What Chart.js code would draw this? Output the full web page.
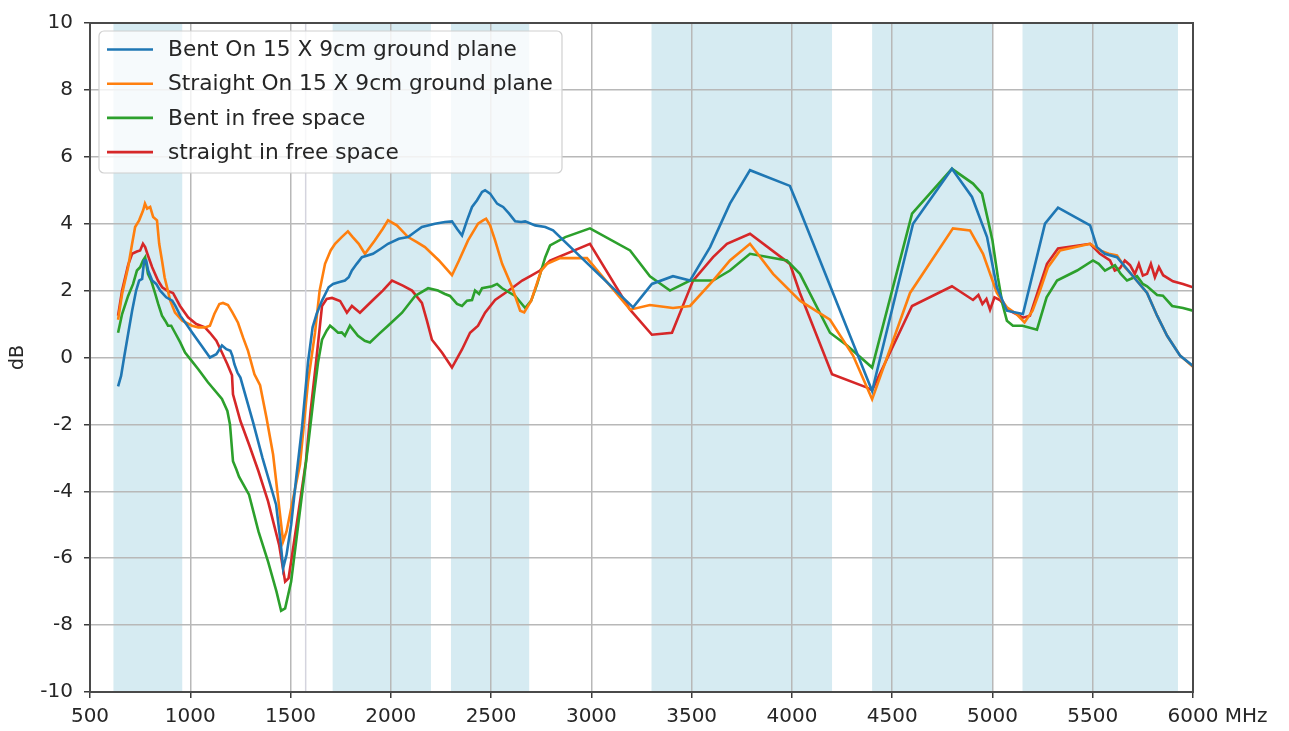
<!DOCTYPE html>
<html><head><meta charset="utf-8">
<script src="https://cdn.jsdelivr.net/npm/chart.js@4.4.1/dist/chart.umd.min.js"></script>
<style>html,body{margin:0;padding:0;background:#fff}#wrap{width:1289px;height:731px}</style>
</head><body><div id="wrap"><canvas id="c" width="1289" height="731"></canvas></div>
<script>
// ---- data ----
const seriesLabels = ["Bent On 15 X 9cm ground plane","Straight On 15 X 9cm ground plane","Bent in free space","straight in free space"];
const seriesColors = ["#1f77b4","#ff7f0e","#2ca02c","#d62728"];
const bands = [[617,960],[1710,2200],[2300,2690],[3300,4200],[4400,5000],[5150,5925]];
const gpsLine = 1575.42;
const xTickValues = [500,1000,1500,2000,2500,3000,3500,4000,4500,5000,5500,6000];
const yTickValues = [-10,-8,-6,-4,-2,0,2,4,6,8,10];

const bentGpFreq = [640,655,670,690,710,730,745,760,770,780,790,810,830,850,880,910,925,950,980,1010,1050,1098,1130,1158,1180,1200,1210,1220,1235,1250,1313,1360,1428,1450,1463,1480,1503,1530,1557,1587,1610,1630,1657,1690,1712,1740,1771,1790,1806,1830,1856,1911,1950,1986,2040,2086,2120,2155,2220,2270,2305,2330,2355,2380,2405,2430,2455,2470,2495,2530,2545,2560,2590,2620,2650,2670,2720,2770,2809,3208,3302,3407,3492,3592,3691,3791,3990,4040,4400,4604,4798,4898,4973,5022,5072,5152,5262,5327,5487,5521,5560,5621,5701,5771,5821,5871,5935,6000];
const bentGpDb = [-0.86,-0.55,0.0,0.7,1.4,2.0,2.3,2.35,2.9,2.9,2.6,2.3,2.2,2.0,1.8,1.7,1.55,1.25,1.0,0.74,0.4,0.0,0.1,0.36,0.25,0.2,0.05,-0.2,-0.45,-0.6,-1.93,-3.0,-4.4,-5.5,-6.3,-5.9,-5.0,-3.5,-2.1,-0.15,0.9,1.3,1.7,2.1,2.2,2.25,2.3,2.4,2.6,2.8,3.0,3.1,3.25,3.4,3.55,3.6,3.75,3.9,4.0,4.05,4.07,3.85,3.65,4.1,4.5,4.7,4.95,5.0,4.9,4.6,4.55,4.5,4.3,4.07,4.05,4.07,3.95,3.9,3.8,1.5,2.2,2.43,2.3,3.3,4.6,5.6,5.13,4.4,-1.0,4.0,5.64,4.8,3.6,2.1,1.4,1.3,4.0,4.48,3.95,3.3,3.1,3.0,2.43,1.93,1.25,0.65,0.06,-0.25];

const straightGpFreq = [640,660,690,710,725,745,765,774,785,800,815,834,845,859,872,884,900,924,960,1009,1040,1073,1098,1120,1145,1163,1188,1210,1238,1263,1288,1320,1348,1380,1413,1440,1463,1480,1510,1547,1587,1622,1645,1672,1700,1722,1755,1786,1810,1840,1871,1920,1960,1986,2030,2086,2130,2170,2240,2305,2340,2385,2435,2460,2475,2495,2520,2555,2605,2645,2665,2700,2750,2779,2844,2978,3193,3292,3407,3492,3607,3691,3791,3906,4040,4190,4305,4400,4589,4803,4888,4953,5022,5072,5120,5160,5200,5237,5277,5337,5487,5536,5580,5621,5660,5701,5771,5821,5871,5935,6000];
const straightGpDb = [1.13,1.9,2.7,3.4,3.9,4.1,4.4,4.6,4.45,4.5,4.2,4.1,3.4,2.9,2.4,2.1,1.7,1.34,1.1,0.95,0.9,0.9,0.95,1.3,1.6,1.63,1.57,1.35,1.04,0.6,0.2,-0.5,-0.83,-1.8,-2.9,-4.3,-5.5,-5.2,-4.3,-3.2,-0.74,0.74,2.0,2.8,3.2,3.4,3.6,3.77,3.6,3.4,3.1,3.5,3.85,4.1,3.95,3.6,3.45,3.3,2.9,2.46,2.9,3.5,4.0,4.1,4.15,3.95,3.5,2.8,2.1,1.4,1.35,1.7,2.6,2.8,2.97,2.97,1.43,1.57,1.48,1.54,2.3,2.9,3.4,2.5,1.7,1.13,0.06,-1.25,1.93,3.86,3.8,3.1,1.93,1.5,1.3,1.05,1.4,2.0,2.7,3.2,3.4,3.2,3.1,3.05,2.7,2.43,1.93,1.25,0.65,0.06,-0.28];

const bentFsFreq = [640,660,690,715,734,750,764,775,789,805,824,840,859,875,889,905,924,950,974,1000,1040,1088,1158,1185,1198,1213,1230,1243,1293,1340,1388,1430,1453,1473,1503,1530,1557,1590,1617,1637,1657,1680,1697,1717,1737,1755,1771,1796,1836,1870,1896,1940,1986,2056,2121,2186,2235,2270,2295,2330,2355,2380,2405,2420,2440,2455,2505,2530,2555,2620,2670,2700,2730,2770,2794,2870,2993,3193,3292,3392,3492,3607,3691,3791,3975,4040,4190,4275,4400,4599,4798,4903,4948,4978,5000,5027,5050,5072,5102,5150,5222,5270,5322,5422,5501,5530,5561,5611,5640,5671,5721,5750,5771,5821,5850,5896,5950,6000];
const bentFsDb = [0.74,1.3,1.84,2.2,2.6,2.7,2.9,3.0,2.5,2.3,1.93,1.6,1.25,1.1,0.95,0.95,0.74,0.45,0.15,-0.05,-0.35,-0.74,-1.24,-1.6,-2.0,-3.1,-3.35,-3.56,-4.1,-5.2,-6.1,-7.0,-7.57,-7.5,-6.7,-5.4,-4.1,-2.5,-1.1,-0.15,0.53,0.8,0.95,0.85,0.74,0.75,0.65,0.95,0.65,0.5,0.45,0.7,0.95,1.34,1.84,2.07,2.0,1.9,1.84,1.6,1.54,1.7,1.72,2.0,1.9,2.07,2.13,2.2,2.07,1.84,1.48,1.7,2.2,3.0,3.35,3.6,3.86,3.2,2.43,2.0,2.3,2.3,2.6,3.1,2.9,2.5,0.74,0.36,-0.3,4.3,5.64,5.2,4.9,4.1,3.5,2.4,1.6,1.1,0.95,0.95,0.83,1.8,2.3,2.6,2.9,2.8,2.6,2.76,2.5,2.3,2.43,2.2,2.13,1.87,1.85,1.54,1.48,1.4];

const straightFsFreq = [640,660,690,710,734,750,764,775,789,810,839,860,884,914,949,989,1030,1073,1098,1130,1158,1185,1208,1213,1250,1293,1340,1388,1443,1473,1490,1503,1540,1577,1600,1627,1657,1680,1707,1747,1781,1806,1846,1911,1960,2006,2060,2106,2155,2180,2205,2255,2305,2355,2395,2435,2470,2520,2570,2610,2655,2700,2744,2794,2993,3193,3302,3402,3507,3607,3676,3791,3990,4040,4200,4375,4400,4599,4798,4903,4930,4950,4970,4988,5010,5037,5077,5152,5187,5272,5327,5487,5536,5586,5610,5636,5660,5686,5710,5730,5750,5771,5790,5810,5830,5851,5900,5950,6000];
const straightFsDb = [1.25,2.0,2.76,3.1,3.17,3.2,3.4,3.3,3.05,2.7,2.3,2.1,2.0,1.93,1.54,1.2,1.0,0.9,0.74,0.5,0.15,-0.2,-0.53,-1.1,-1.9,-2.6,-3.4,-4.3,-5.6,-6.7,-6.6,-6.1,-4.6,-3.1,-1.6,-0.15,1.54,1.75,1.78,1.69,1.34,1.54,1.34,1.72,2.0,2.3,2.15,2.0,1.63,1.1,0.53,0.15,-0.3,0.24,0.74,0.95,1.34,1.72,1.93,2.1,2.3,2.45,2.6,2.9,3.4,1.43,0.68,0.74,2.3,3.0,3.4,3.7,2.8,1.93,-0.5,-0.9,-0.98,1.54,2.13,1.72,1.87,1.6,1.75,1.43,1.8,1.72,1.43,1.19,1.25,2.8,3.26,3.4,3.1,2.9,2.6,2.67,2.9,2.76,2.5,2.8,2.45,2.5,2.8,2.4,2.7,2.46,2.28,2.2,2.1];

const seriesFreqs = [bentGpFreq, straightGpFreq, bentFsFreq, straightFsFreq];
const seriesDbs = [bentGpDb, straightGpDb, bentFsDb, straightFsDb];

// ---- chart ----
const FONT = "'DejaVu Sans', sans-serif";
const TXT = "#262626";

const datasets = seriesLabels.map((lab, i) => ({
  label: lab,
  data: seriesFreqs[i].map((f, k) => ({x: f, y: seriesDbs[i][k]})),
  borderColor: seriesColors[i],
  backgroundColor: seriesColors[i],
  borderWidth: 2.6,
  pointRadius: 0,
  tension: 0,
  fill: false
}));

const bandsPlugin = {
  id: 'bands',
  beforeDraw(chart) {
    const {ctx, chartArea: a, scales: {x}} = chart;
    ctx.save();
    ctx.fillStyle = 'rgba(173,216,230,0.5)';
    bands.forEach(([s, e]) => {
      const x0 = x.getPixelForValue(s), x1 = x.getPixelForValue(e);
      ctx.fillRect(x0, a.top, x1 - x0, a.bottom - a.top);
    });
    ctx.restore();
  },
  beforeDatasetsDraw(chart) {
    const {ctx, chartArea: a, scales: {x}} = chart;
    ctx.save();
    ctx.strokeStyle = '#d4d4de';
    ctx.lineWidth = 1.5;
    const gx = x.getPixelForValue(gpsLine);
    ctx.beginPath(); ctx.moveTo(gx, a.top); ctx.lineTo(gx, a.bottom); ctx.stroke();
    ctx.restore();
  }
};

const framePlugin = {
  id: 'frame',
  afterDatasetsDraw(chart) {
    const {ctx, chartArea: a} = chart;
    ctx.save();
    ctx.strokeStyle = '#4a4a4a';
    ctx.lineWidth = 2;
    ctx.strokeRect(a.left, a.top, a.right - a.left, a.bottom - a.top);
    ctx.restore();
  },
  afterDraw(chart) {
    const {ctx, scales: {x}} = chart;
    ctx.save();
    ctx.font = "20px " + FONT;
    ctx.fillStyle = TXT;
    ctx.textBaseline = 'middle';
    ctx.textAlign = 'left';
    const px = x.getPixelForValue(6000) + ctx.measureText('6000').width / 2 + ctx.measureText(' ').width;
    ctx.fillText('MHz', px, 717);
    ctx.restore();
    // legend
    ctx.save();
    const bx = 99, by = 31, bw = 463, bh = 142, r = 5;
    ctx.beginPath();
    ctx.moveTo(bx + r, by);
    ctx.arcTo(bx + bw, by, bx + bw, by + bh, r);
    ctx.arcTo(bx + bw, by + bh, bx, by + bh, r);
    ctx.arcTo(bx, by + bh, bx, by, r);
    ctx.arcTo(bx, by, bx + bw, by, r);
    ctx.closePath();
    ctx.fillStyle = 'rgba(255,255,255,0.8)';
    ctx.fill();
    ctx.strokeStyle = '#d0d0d0';
    ctx.lineWidth = 1.2;
    ctx.stroke();
    ctx.font = "21.7px " + FONT;
    ctx.textBaseline = 'middle';
    ctx.textAlign = 'left';
    chart.data.datasets.forEach((ds, i) => {
      const y = 49.5 + i * 34.2;
      ctx.strokeStyle = ds.borderColor;
      ctx.lineWidth = 2.6;
      ctx.beginPath(); ctx.moveTo(107, y); ctx.lineTo(153, y); ctx.stroke();
      ctx.fillStyle = TXT;
      ctx.fillText(ds.label, 168, y + 1);
    });
    ctx.restore();
  }
};

new Chart(document.getElementById('c'), {
  type: 'line',
  data: {datasets},
  options: {
    responsive: false,
    animation: false,
    devicePixelRatio: 1,
    layout: {padding: {left: 0, right: 96, top: 18, bottom: 0}},
    plugins: {legend: {display: false}, tooltip: {enabled: false}},
    scales: {
      x: {
        type: 'linear', min: 500, max: 6000,
        afterBuildTicks: s => { s.ticks = xTickValues.map(v => ({value: v})); },
        afterFit: s => { s.height = 39; },
        ticks: {autoSkip: false, maxRotation: 0, padding: 7, color: TXT, font: {family: FONT, size: 20}, callback: v => String(v)},
        grid: {color: '#b8b8b8', lineWidth: 1.5, tickLength: 6, tickColor: '#3a3a3a', tickWidth: 1.5},
        border: {display: false}
      },
      y: {
        type: 'linear', min: -10, max: 10,
        afterBuildTicks: s => { s.ticks = yTickValues.map(v => ({value: v})); },
        afterFit: s => { s.width = 90; },
        ticks: {padding: 11, color: TXT, font: {family: FONT, size: 20}, callback: v => String(v)},
        grid: {color: '#b8b8b8', lineWidth: 1.5, tickLength: 6, tickColor: '#3a3a3a', tickWidth: 1.5},
        border: {display: false},
        title: {display: true, text: 'dB', color: TXT, font: {family: FONT, size: 19}, padding: {top: 7, bottom: 0}}
      }
    }
  },
  plugins: [bandsPlugin, framePlugin]
});
</script>
</body></html>
